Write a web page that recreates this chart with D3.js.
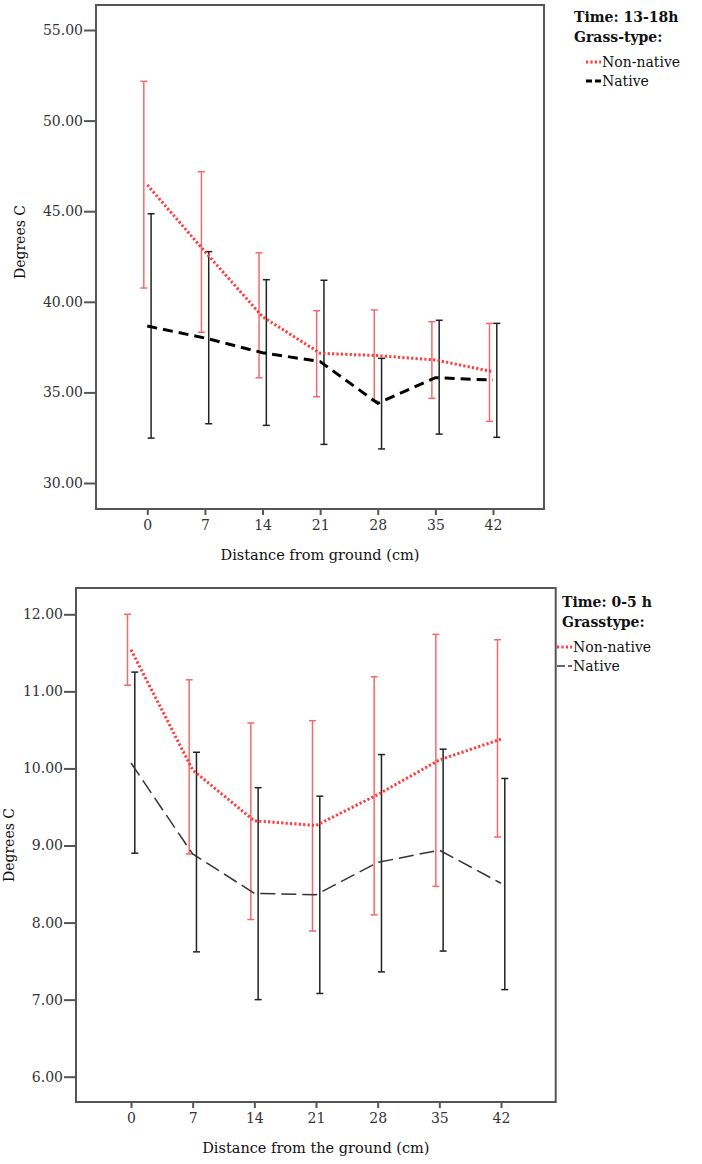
<!DOCTYPE html>
<html>
<head>
<meta charset="utf-8">
<script src="https://cdn.jsdelivr.net/npm/d3@7"></script>
<style>
  body { margin: 0; background: #fff; }
  svg { display: block; }
  text { font-family: "DejaVu Serif", "Liberation Serif", serif; }
</style>
</head>
<body>
<svg id="chart" width="702" height="1164"></svg>
<script>
// distances (cm)
var distances = [0, 7, 14, 21, 28, 35, 42]

// top panel: Time 13-18h
var dayNonNativeMean = [46.45, 42.77, 39.18, 37.16, 37.03, 36.79, 36.14]
var dayNonNativeHigh = [52.17, 47.18, 42.71, 39.51, 39.55, 38.90, 38.81]
var dayNonNativeLow  = [40.76, 38.32, 35.81, 34.76, 34.54, 34.67, 33.40]
var dayNativeMean = [38.66, 38.00, 37.19, 36.70, 34.40, 35.81, 35.68]
var dayNativeHigh = [44.86, 42.77, 41.22, 41.19, 36.88, 38.98, 38.81]
var dayNativeLow  = [32.48, 33.27, 33.18, 32.13, 31.88, 32.70, 32.52]
var dayTicks = [30, 35, 40, 45, 50, 55]

// bottom panel: Time 0-5 h
var nightNonNativeMean = [11.54, 9.98, 9.32, 9.26, 9.66, 10.11, 10.38]
var nightNonNativeHigh = [12.00, 11.15, 10.59, 10.62, 11.19, 11.74, 11.67]
var nightNonNativeLow  = [11.08, 8.89, 8.04, 7.89, 8.10, 8.47, 9.11]
var nightNativeMean = [10.07, 8.89, 8.38, 8.36, 8.78, 8.94, 8.51]
var nightNativeHigh = [11.25, 10.21, 9.75, 9.64, 10.18, 10.25, 9.87]
var nightNativeLow  = [8.90, 7.62, 7.00, 7.08, 7.36, 7.63, 7.13]
var nightTicks = [6, 7, 8, 9, 10, 11, 12]

var svg = d3.select("#chart")
var red = "#ff3b3b", redBar = "#f46a6a", axisCol = "#555"

function panel(opt){
    var g = svg.append("g")
    var x = d3.scalePoint().domain(distances).range([opt.x0, opt.x1])
    var y = d3.scaleLinear().domain(opt.domain).range(opt.yr)

    // frame
    g.append("rect")
        .attr("x", opt.left).attr("y", opt.top)
        .attr("width", opt.right - opt.left).attr("height", opt.bottom - opt.top)
        .attr("fill", "none").attr("stroke", axisCol).attr("stroke-width", 2)

    var yAxis = g.append("g")
        .attr("transform", `translate(${opt.left},0)`)
        .call(d3.axisLeft(y).tickValues(opt.ticks).tickFormat(d3.format(".2f")).tickSize(12).tickPadding(1))
    yAxis.select(".domain").remove()
    yAxis.selectAll("line").attr("stroke", axisCol).attr("stroke-width", 2)
    yAxis.selectAll("text").attr("font-size", 14).attr("fill", "#333")

    var xAxis = g.append("g")
        .attr("transform", `translate(0,${opt.bottom})`)
        .call(d3.axisBottom(x).tickSize(6).tickPadding(5))
    xAxis.select(".domain").remove()
    xAxis.selectAll("line").attr("stroke", axisCol).attr("stroke-width", 2)
    xAxis.selectAll("text").attr("font-size", 14).attr("fill", "#333")

    g.append("text")
        .attr("x", (opt.left + opt.right) / 2).attr("y", opt.bottom + 51)
        .attr("text-anchor", "middle").attr("font-size", 14.5).attr("fill", "#111")
        .text(opt.xTitle)

    g.append("text")
        .attr("transform", `translate(${opt.yTitleX},${opt.yTitleY}) rotate(-90)`)
        .attr("text-anchor", "middle").attr("font-size", 14).attr("fill", "#111")
        .text("Degrees C")

    // error bars
    function bars(low, high, col, off){
        var eb = g.append("g").attr("stroke", col).attr("stroke-width", 1.5)
        distances.forEach((d, i) => {
            var cx = x(d) + off
            eb.append("line").attr("x1", cx).attr("x2", cx).attr("y1", y(low[i])).attr("y2", y(high[i]))
            eb.append("line").attr("x1", cx - 3.5).attr("x2", cx + 3.5).attr("y1", y(low[i])).attr("y2", y(low[i]))
            eb.append("line").attr("x1", cx - 3.5).attr("x2", cx + 3.5).attr("y1", y(high[i])).attr("y2", y(high[i]))
        })
    }
    bars(opt.nnLow, opt.nnHigh, redBar, -3.5)
    bars(opt.nLow, opt.nHigh, "#222", 3.8)

    var line = d3.line().x((d, i) => x(distances[i])).y(d => y(d))
    g.append("path").attr("d", line(opt.nMean)).attr("fill", "none")
        .attr("stroke", opt.nCol).attr("stroke-width", opt.nWidth).attr("stroke-dasharray", opt.nDash)
    g.append("path").attr("d", line(opt.nnMean)).attr("fill", "none")
        .attr("stroke", red).attr("stroke-width", 3).attr("stroke-dasharray", "2.2,2.2")

    // legend
    var lg = g.append("g").attr("font-size", 14)
    lg.append("text").attr("x", opt.lgX).attr("y", opt.lgY).attr("font-weight", "bold").attr("fill", "#111").text(opt.timeLabel)
    lg.append("text").attr("x", opt.lgX).attr("y", opt.lgY + 20).attr("font-weight", "bold").attr("fill", "#111").text(opt.typeLabel)
    lg.append("line").attr("x1", opt.lgLineX).attr("x2", opt.lgLineX + 15).attr("y1", opt.lgY + 40).attr("y2", opt.lgY + 40)
        .attr("stroke", red).attr("stroke-width", 3).attr("stroke-dasharray", "2.2,2.2")
    lg.append("text").attr("x", opt.lgLineX + 16).attr("y", opt.lgY + 45).attr("fill", "#111").text("Non-native")
    lg.append("line").attr("x1", opt.lgLineX).attr("x2", opt.lgLineX + 15).attr("y1", opt.lgY + 59).attr("y2", opt.lgY + 59)
        .attr("stroke", opt.nCol).attr("stroke-width", opt.nWidth).attr("stroke-dasharray", opt.lgDash)
    lg.append("text").attr("x", opt.lgLineX + 16).attr("y", opt.lgY + 64).attr("fill", "#111").text("Native")
}

panel({
    left: 96, right: 544, top: 5, bottom: 509,
    x0: 147.3, x1: 493, domain: [30, 55], yr: [483, 30], ticks: dayTicks,
    nnMean: dayNonNativeMean, nnHigh: dayNonNativeHigh, nnLow: dayNonNativeLow,
    nMean: dayNativeMean, nHigh: dayNativeHigh, nLow: dayNativeLow,
    nCol: "#000", nWidth: 3, nDash: "10,6", lgDash: "6,3",
    xTitle: "Distance from ground (cm)", yTitleX: 25, yTitleY: 242,
    timeLabel: "Time: 13-18h", typeLabel: "Grass-type:", lgX: 574, lgY: 22, lgLineX: 586
})

panel({
    left: 76, right: 555.7, top: 588, bottom: 1102,
    x0: 131, x1: 501, domain: [6, 12], yr: [1076.7, 614.3], ticks: nightTicks,
    nnMean: nightNonNativeMean, nnHigh: nightNonNativeHigh, nnLow: nightNonNativeLow,
    nMean: nightNativeMean, nHigh: nightNativeHigh, nLow: nightNativeLow,
    nCol: "#333", nWidth: 1.5, nDash: "15,6", lgDash: "8,3",
    xTitle: "Distance from the ground (cm)", yTitleX: 14, yTitleY: 845,
    timeLabel: "Time: 0-5 h", typeLabel: "Grasstype:", lgX: 562, lgY: 607, lgLineX: 557
})
</script>
</body>
</html>
